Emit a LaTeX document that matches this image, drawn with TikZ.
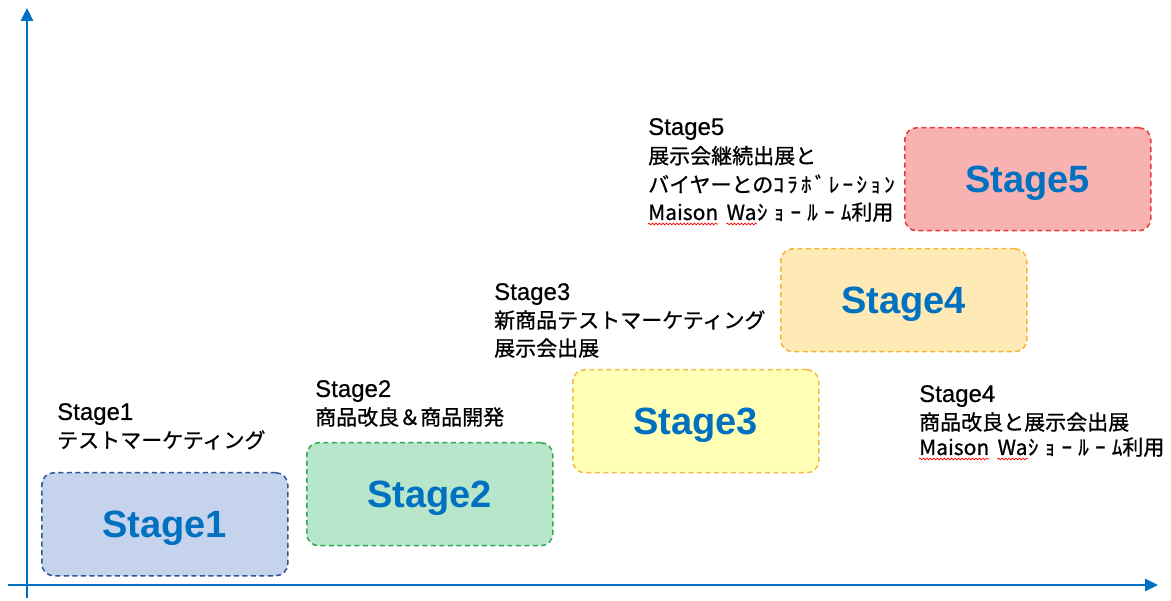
\documentclass[tikz,border=0pt]{standalone}
\usepackage{fontspec}
\usetikzlibrary{arrows.meta,decorations.pathmorphing}
\newfontfamily\jp[FakeBold=0.8]{Noto Sans CJK JP}
\setmainfont{Liberation Sans}
\definecolor{axisblue}{HTML}{0070C0}
\definecolor{fA}{HTML}{C5D3EC}\definecolor{bA}{HTML}{2F5597}
\definecolor{fB}{HTML}{B7E6CA}\definecolor{bB}{HTML}{2EAA50}
\definecolor{fC}{HTML}{FFFFB5}\definecolor{bC}{HTML}{F5B942}
\definecolor{fD}{HTML}{FFE9B5}\definecolor{bD}{HTML}{F2B533}
\definecolor{fE}{HTML}{F9B2B2}\definecolor{bE}{HTML}{E83A3A}
\newcommand\stg[1]{{\normalfont\addfontfeature{FakeBold=0.5}\fontsize{24}{28}\selectfont #1}}
\newcommand\hwk[2]{{\addfontfeature{LetterSpace=#1}#2}}
\tikzset{
  stagebox/.style={draw, rounded corners=12pt, dash pattern=on 5pt off 3.5pt, line width=1.5pt,
    minimum width=246pt, minimum height=103pt, inner sep=0pt, anchor=north west,
    text=axisblue, text height=27pt, text depth=0pt, font=\fontsize{38}{40}\selectfont\bfseries},
  lbl/.style={anchor=north west, inner sep=0pt, align=left, font=\jp\fontsize{21}{28}\selectfont},
  word/.style={anchor=base west, inner sep=0pt, font=\jp\fontsize{21}{28}\selectfont},
  axis/.style={draw=axisblue, line width=2.5pt, -{Triangle[length=13pt,width=12pt]}},
  spell/.style={draw=red, line width=0.7pt, decorate, decoration={snake, amplitude=0.9pt, segment length=3.5pt}}
}
\begin{document}
\begin{tikzpicture}[x=1pt,y=-1pt]
\useasboundingbox (0,0) rectangle (1171,601);
\coordinate (yb) at (27,598);
\coordinate (yt) at (27,8);
\coordinate (xl) at (8,585);
\coordinate (xr) at (1158,585);
\draw[axis] (yb) -- (yt);
\draw[axis] (xl) -- (xr);

\node[stagebox, fill=fA, draw=bA] (s1) at (41,472) {Stage1};
\node[stagebox, fill=fB, draw=bB] (s2) at (306,442) {Stage2};
\node[stagebox, fill=fC, draw=bC] (s3) at (572,369) {Stage3};
\node[stagebox, fill=fD, draw=bD] (s4) at (780,248) {Stage4};
\node[stagebox, fill=fE, draw=bE] (s5) at (904,127) {Stage5};

\node[lbl] (l1) at (57,403) {\stg{Stage1}\\テストマーケティング};
\node[lbl] (l2) at (315,380) {\stg{Stage2}\\商品改良＆商品開発};
\node[lbl] (l3) at (494,283) {\stg{Stage3}\\新商品テストマーケティング\\展示会出展};

\node[lbl, font=\jp\fontsize{21}{28.7}\selectfont] (l5) at (648,118) {\stg{Stage5}\\展示会継続出展と\\バイヤーとの\hwk{16}{ｺﾗﾎﾞﾚｰｼｮﾝ}};
\node[word] (m5) at (648,220) {Maison};
\node[word] (w5) at ([xshift=8pt]m5.base east) {Wa};
\node[word] (r5) at (w5.base east) {\hwk{30}{ｼｮｰﾙｰﾑ}利用};

\node[lbl] (l4) at (919,385) {\stg{Stage4}\\商品改良と展示会出展};
\node[word] (m4) at (919,455) {Maison};
\node[word] (w4) at ([xshift=8pt]m4.base east) {Wa};
\node[word] (r4) at (w4.base east) {\hwk{30}{ｼｮｰﾙｰﾑ}利用};

\draw[spell] ([yshift=-4pt]m5.base west) -- ([yshift=-4pt]m5.base east);
\draw[spell] ([yshift=-4pt]w5.base west) -- ([yshift=-4pt]w5.base east);
\draw[spell] ([yshift=-4pt]m4.base west) -- ([yshift=-4pt]m4.base east);
\draw[spell] ([yshift=-4pt]w4.base west) -- ([yshift=-4pt]w4.base east);
\end{tikzpicture}
\end{document}
